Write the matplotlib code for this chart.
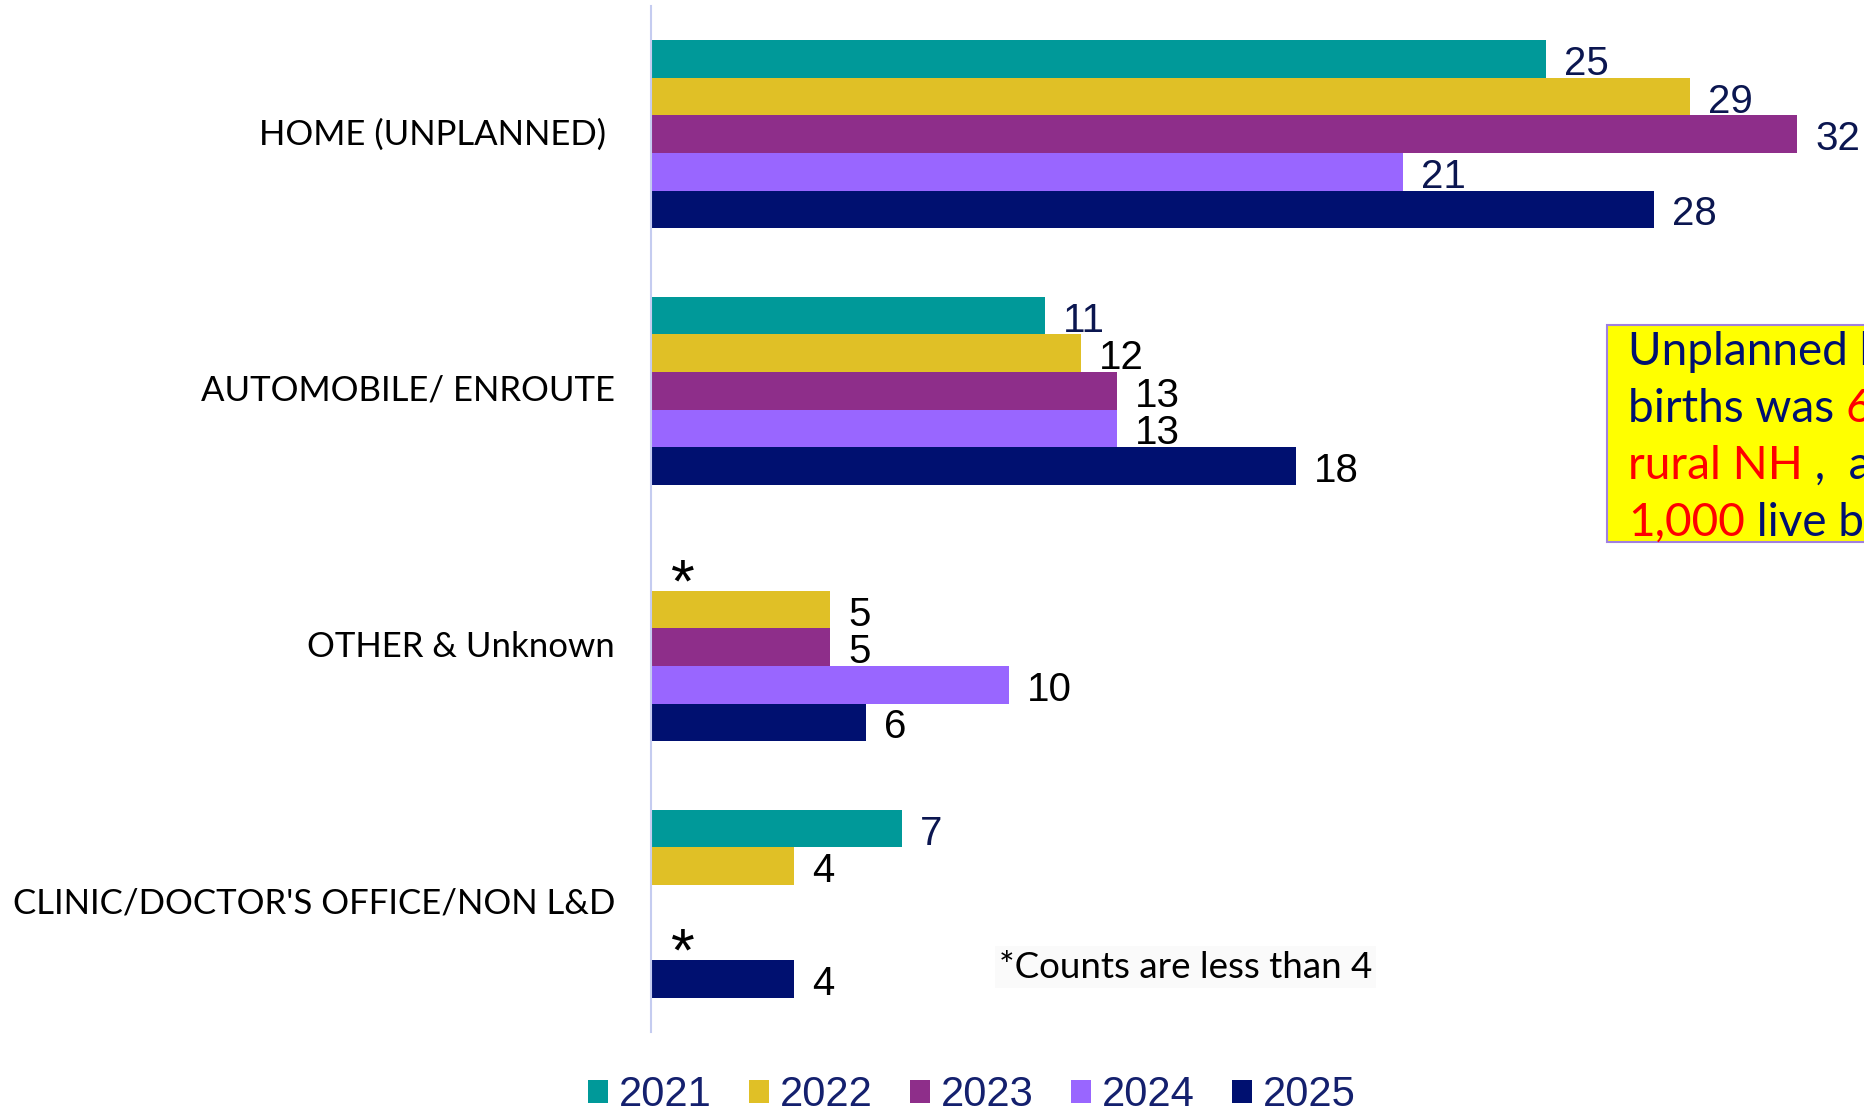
import numpy as np
import matplotlib
matplotlib.use("Agg")
import matplotlib.pyplot as plt
from matplotlib.patches import Rectangle

# place of birth categories, top to bottom
categories = ["HOME (UNPLANNED) ", "AUTOMOBILE/ ENROUTE", "OTHER & Unknown",
              "CLINIC/DOCTOR'S OFFICE/NON L&D"]
years = ["2021", "2022", "2023", "2024", "2025"]

# counts per year (nan = no bar)
v2021 = [25, 11, np.nan, 7]
v2022 = [29, 12, 5, 4]
v2023 = [32, 13, 5, np.nan]
v2024 = [21, 13, 10, np.nan]
v2025 = [28, 18, 6, 4]

# suppressed counts (<4), shown as '*': (category index, year index)
suppressed = [(2, 0), (3, 3)]

colors = ["#009999", "#E0C026", "#8E2E8A", "#9966FF", "#001070"]
NAVY = "#0B1650"
BOX_NAVY = "#001070"

series = [v2021, v2022, v2023, v2024, v2025]

W, H = 1865, 1111
fig = plt.figure(figsize=(W / 100, H / 100), dpi=100)
ax = fig.add_axes([651 / W, 1 - 1032 / H, 1 - 651 / W, (1032 - 6) / H])

bh = 0.1463
y = np.arange(len(categories))
for j, vals in enumerate(series):
    pos = y + (j - 2) * bh
    ax.barh(pos, vals, height=bh, color=colors[j], label=years[j])
    for i, v in enumerate(vals):
        if np.isnan(v):
            continue
        c = NAVY if (i == 0 or j == 0) else "black"
        ax.annotate("%d" % v, (v, pos[i]), xytext=(13, -3.5), textcoords="offset points",
                    ha="left", va="center", fontsize=29, color=c,
                    family="Liberation Sans")

for ci, yi in suppressed:
    ax.text(0.9, ci + (yi - 2) * bh + 0.115, "*", ha="center", va="baseline",
            fontsize=44, color="black", family="Liberation Sans")

ax.set_xlim(0, 33.9)
ax.set_ylim(len(categories) - 0.5, -0.5)
for s in ["top", "right", "bottom"]:
    ax.spines[s].set_visible(False)
ax.spines["left"].set_color("#C5CCF0")
ax.spines["left"].set_linewidth(1.5)
ax.set_xticks([])
ax.set_yticks([])

# category labels
trans = matplotlib.transforms.blended_transform_factory(fig.transFigure, ax.transData)
for i, cat in enumerate(categories):
    ax.text(615 / W, i, cat, transform=trans, ha="right", va="center",
            fontsize=25, color="black", family="Lato", clip_on=False)

# footnote
fig.text(999 / W, 1 - 967 / H, "*Counts are less than 4", ha="left", va="center",
         fontsize=26.5, family="Lato", color="black",
         bbox=dict(facecolor="#FAFAFA", edgecolor="none", pad=3))

# callout box (runs off the right edge)
fig.patches.append(Rectangle((1607 / W, 1 - 542 / H), 0.3, (542 - 325) / H,
                             transform=fig.transFigure, facecolor="#FFFF00",
                             edgecolor="#A080E0", linewidth=1.5))
box_lines = [
    [("Unplanned home", BOX_NAVY)],
    [("births was ", BOX_NAVY), ("6", "red")],
    [("rural NH", "red"), (" ,  and", BOX_NAVY)],
    [("1,000", "red"), (" live births", BOX_NAVY)],
]
fig.canvas.draw()
r = fig.canvas.get_renderer()
for k, parts in enumerate(box_lines):
    x = 1628 / W
    yy = 1 - (352 + 57 * k) / H
    for txt, c in parts:
        t = fig.text(x, yy, txt, ha="left", va="center", fontsize=33,
                     family="Lato", color=c)
        bb = t.get_window_extent(renderer=r)
        x += bb.width / W

leg = fig.legend(loc="center", bbox_to_anchor=(972 / W, 1 - 1095 / H), ncol=5,
                 frameon=False, handlelength=0.48, handleheight=0.48,
                 handletextpad=0.26, columnspacing=0.9,
                 prop={"family": "Liberation Sans", "size": 30})
for t in leg.get_texts():
    t.set_color("#14206E")

fig.savefig("out.png", dpi=100)
